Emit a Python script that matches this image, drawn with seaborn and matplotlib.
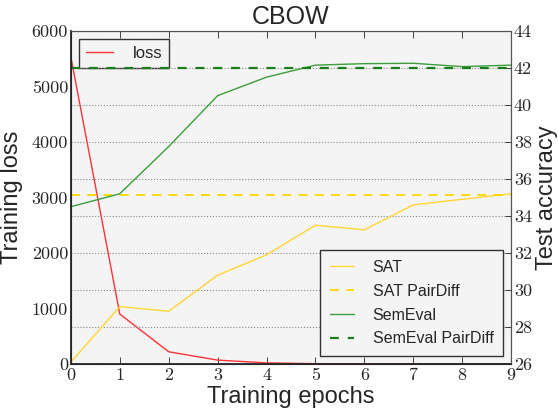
import matplotlib
matplotlib.use("Agg")
import matplotlib.pyplot as plt
import seaborn as sns
import numpy as np
import pandas as pd

# values
epochs = [0, 1, 2, 3, 4, 5, 6, 7, 8, 9]
loss = [5530, 900, 220, 70, 20, 6, 3, 2, 1, 1]
sat = [26.1, 29.1, 28.85, 30.8, 31.9, 33.5, 33.25, 34.6, 34.9, 35.2]
semeval = [34.5, 35.2, 37.75, 40.5, 41.5, 42.15, 42.23, 42.25, 42.07, 42.15]
sat_pairdiff = 35.15
semeval_pairdiff = 41.98

sns.set_style("ticks", {"axes.facecolor": "#f4f4f4", "xtick.direction": "in",
                        "ytick.direction": "in"})
plt.rcParams['font.family'] = ['Liberation Sans', 'DejaVu Sans']

fig = plt.figure(figsize=(5.58, 4.12), dpi=100)
ax = fig.add_axes([0.127, 0.1165, 0.789, 0.8085])
ax2 = ax.twinx()

df = pd.DataFrame({"epoch": epochs, "loss": loss, "SAT": sat, "SemEval": semeval})

sns.lineplot(data=df, x="epoch", y="loss", ax=ax, color="#ff3333", lw=1, label="loss")
sns.lineplot(data=df, x="epoch", y="SAT", ax=ax2, color="#ffd633", lw=1, label="SAT")
ax2.axhline(sat_pairdiff, color="#ffd700", lw=1.3, ls="--", dashes=(5, 4), label="SAT PairDiff")
sns.lineplot(data=df, x="epoch", y="SemEval", ax=ax2, color="#3a9e3a", lw=1, label="SemEval")
ax2.axhline(semeval_pairdiff, color="#1a7f1a", lw=1.6, ls="--", dashes=(4, 4), label="SemEval PairDiff")

ax.set_xlim(0, 9)
ax.set_ylim(0, 6000)
ax2.set_ylim(26, 44)
ax.set_xticks(range(10))
ax.set_yticks(range(0, 6001, 1000))
ax2.set_yticks(range(26, 45, 2))
ax2.yaxis.grid(True, ls=":", color="#888888", lw=0.8)
ax.set_axisbelow(True)

ax.tick_params(axis="x", top=True, length=5, width=0.6, pad=3)
ax.tick_params(axis="y", left=False, length=0, pad=2)
ax2.tick_params(axis="y", length=4, width=0.6, pad=2)
for a in (ax, ax2):
    for lab in a.get_xticklabels() + a.get_yticklabels():
        lab.set_fontfamily("cmr10")
        lab.set_fontsize(13)

for sp in ("top", "right"):
    ax2.spines[sp].set_visible(True)
    ax2.spines[sp].set_color("#555555")
    ax.spines[sp].set_visible(True)
ax.spines["left"].set_linewidth(1.3)
ax.spines["bottom"].set_linewidth(1.3)

ax.set_xlabel("Training epochs", fontsize=17, labelpad=2)
ax.set_ylabel("Training loss", fontsize=17, labelpad=6)
ax2.set_ylabel("Test accuracy", fontsize=17, labelpad=3)
ax.set_title("CBOW", fontsize=18, pad=5)

ax.legend(loc="upper left", fontsize=12, fancybox=False, edgecolor="#333333",
          framealpha=1, borderaxespad=0.5, handlelength=1.6, handletextpad=1.2)
ax2.legend(loc="lower right", fontsize=11.5, fancybox=False, edgecolor="#333333",
           framealpha=1, borderaxespad=0.5, labelspacing=0.55,
           handlelength=1.5, handletextpad=1.2, borderpad=0.6)

fig.savefig("out.png", dpi=100)
